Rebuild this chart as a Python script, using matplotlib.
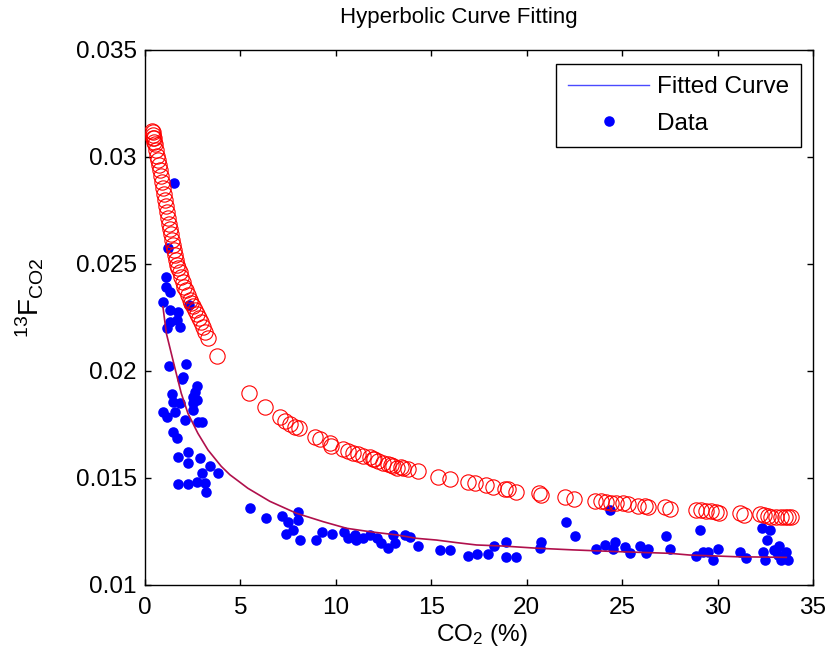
#### Workspace setup ####
import matplotlib
matplotlib.use("Agg")
import matplotlib.pyplot as plt
from matplotlib.lines import Line2D

plt.rcParams["font.family"] = ["Liberation Sans", "DejaVu Sans"]
plt.rcParams["mathtext.default"] = "regular"

#### Data ####
# measured data (blue dots)
data_x = [1.52, 1.22, 1.10, 1.10, 1.31, 0.96, 1.31, 1.74, 1.66, 1.83, 1.13, 1.31,
          2.32, 1.27, 2.15, 2.01, 1.92, 2.71, 2.62, 2.53, 1.40, 1.48, 1.83, 2.53,
          2.71, 0.96, 1.13, 1.57, 2.53, 2.09, 2.79, 2.97, 1.48, 1.66, 1.74, 2.27,
          2.27, 2.88, 3.40, 2.97, 3.84, 1.74, 2.27, 2.71, 3.14, 3.19,
          5.50, 6.34, 7.16, 7.50, 8.03, 8.03, 7.77, 7.38, 8.12, 8.95, 9.30, 9.81,
          10.43, 10.64, 10.99, 11.08, 11.43, 11.78, 12.13, 12.39, 12.74, 13.00,
          13.09, 13.61, 13.87, 14.31, 15.45, 15.97, 16.93, 17.37, 17.98, 18.27,
          18.94, 18.94, 19.42, 20.77, 20.68,
          22.04, 22.51, 24.35, 23.65, 24.08, 24.52, 24.61, 25.13, 25.39, 25.95,
          26.35, 26.26, 27.31, 27.52,
          29.09, 28.88, 29.23, 29.49, 29.75, 30.02, 31.19, 31.47, 32.34, 32.76,
          32.58, 32.37, 32.46, 32.98, 33.21, 33.16, 33.56, 33.34, 33.68]
data_y = [0.02879, 0.02573, 0.02441, 0.02394, 0.02371, 0.02324, 0.02285, 0.02277,
          0.02238, 0.02207, 0.02199, 0.02230, 0.02308, 0.02023, 0.02033, 0.01973,
          0.01961, 0.01930, 0.01903, 0.01880, 0.01893, 0.01857, 0.01849, 0.01852,
          0.01864, 0.01810, 0.01786, 0.01810, 0.01818, 0.01771, 0.01763, 0.01763,
          0.01716, 0.01685, 0.01600, 0.01623, 0.01569, 0.01592, 0.01556, 0.01522,
          0.01522, 0.01472, 0.01472, 0.01483, 0.01475, 0.01436,
          0.01361, 0.01315, 0.01324, 0.01296, 0.01343, 0.01304, 0.01257, 0.01238,
          0.01210, 0.01210, 0.01246, 0.01238, 0.01246, 0.01218, 0.01233, 0.01210,
          0.01218, 0.01233, 0.01218, 0.01195, 0.01171, 0.01233, 0.01195, 0.01233,
          0.01226, 0.01182, 0.01164, 0.01164, 0.01136, 0.01145, 0.01145, 0.01182,
          0.01202, 0.01129, 0.01129, 0.01202, 0.01171,
          0.01296, 0.01229, 0.01350, 0.01167, 0.01187, 0.01167, 0.01202, 0.01176,
          0.01148, 0.01182, 0.01167, 0.01151, 0.01229, 0.01167,
          0.01257, 0.01136, 0.01156, 0.01156, 0.01117, 0.01167, 0.01156, 0.01125,
          0.01265, 0.01257, 0.01210, 0.01156, 0.01117, 0.01164, 0.01182, 0.01140,
          0.01156, 0.01117, 0.01117]

# second series (red open circles)
ring_x = [0.35, 0.42, 0.42, 0.42, 0.45, 0.47, 0.50, 0.58, 0.63, 0.68, 0.73, 0.79,
          0.84, 0.89, 0.94, 0.99, 1.05, 1.10, 1.15, 1.20, 1.26, 1.31, 1.36, 1.41,
          1.47, 1.52, 1.57, 1.62, 1.68, 1.73, 1.83, 1.88, 1.99, 2.04, 2.15, 2.25,
          2.36, 2.41, 2.51, 2.62, 2.72, 2.83, 2.93, 3.04, 3.14, 3.30, 3.77,
          5.46, 6.28, 7.10, 7.33, 7.59, 7.85, 8.08, 8.90, 9.16, 9.69, 9.77, 10.38,
          10.64, 10.91, 11.17, 11.43, 11.78, 11.95, 12.00, 12.21, 12.48, 12.74,
          12.90, 13.00, 13.18, 13.40, 13.52, 13.79, 14.31, 15.36, 15.97, 16.93,
          17.28, 17.89, 18.24, 18.85, 19.02, 19.46, 20.64, 20.77, 21.99, 22.46,
          23.56, 23.91, 24.17, 24.43, 24.70, 25.04, 25.30, 25.83, 26.18, 26.35,
          27.23, 27.49, 28.88, 29.15, 29.41, 29.67, 29.93, 30.10, 31.15, 31.36,
          32.20, 32.41, 32.63, 32.81, 33.07, 33.34, 33.51, 33.68, 33.86]
ring_y = [0.03120, 0.03117, 0.03103, 0.03089, 0.03090, 0.03070, 0.03060, 0.03033,
          0.03005, 0.02986, 0.02963, 0.02939, 0.02911, 0.02883, 0.02855, 0.02827,
          0.02799, 0.02771, 0.02743, 0.02715, 0.02687, 0.02664, 0.02640, 0.02612,
          0.02589, 0.02565, 0.02542, 0.02519, 0.02495, 0.02481, 0.02463, 0.02439,
          0.02416, 0.02393, 0.02379, 0.02355, 0.02332, 0.02318, 0.02304, 0.02285,
          0.02266, 0.02248, 0.02229, 0.02206, 0.02182, 0.02154, 0.02070,
          0.01899, 0.01833, 0.01786, 0.01768, 0.01752, 0.01740, 0.01732, 0.01693,
          0.01682, 0.01662, 0.01650, 0.01636, 0.01628, 0.01618, 0.01611, 0.01603,
          0.01597, 0.01587, 0.01590, 0.01581, 0.01572, 0.01564, 0.01560, 0.01556,
          0.01545, 0.01550, 0.01545, 0.01541, 0.01533, 0.01506, 0.01494, 0.01483,
          0.01475, 0.01467, 0.01459, 0.01447, 0.01447, 0.01436, 0.01431, 0.01421,
          0.01413, 0.01402, 0.01394, 0.01394, 0.01390, 0.01385, 0.01385, 0.01382,
          0.01378, 0.01371, 0.01369, 0.01363, 0.01363, 0.01357, 0.01350, 0.01350,
          0.01347, 0.01345, 0.01342, 0.01335, 0.01338, 0.01326, 0.01331, 0.01326,
          0.01322, 0.01319, 0.01319, 0.01316, 0.01316, 0.01316, 0.01319]

# fitted curve, points
fit_x = [0.94, 1.12, 1.55, 1.90, 2.25, 2.77, 3.30, 3.99, 4.45, 4.87, 5.39, 6.54,
         7.94, 9.33, 10.56, 11.78, 13.18, 14.23, 15.27, 16.32, 17.37, 18.76,
         20.51, 22.42, 24.70, 27.49, 28.53, 30.98, 33.60]
fit_y = [0.02300, 0.02176, 0.02020, 0.01896, 0.01802, 0.01709, 0.01631, 0.01555,
         0.01515, 0.01487, 0.01452, 0.01391, 0.01335, 0.01296, 0.01265, 0.01249,
         0.01234, 0.01218, 0.01210, 0.01198, 0.01187, 0.01182, 0.01172, 0.01164,
         0.01156, 0.01148, 0.01140, 0.01132, 0.01129]

x_ticks = [0, 5, 10, 15, 20, 25, 30, 35]
y_ticks = [0.01, 0.015, 0.02, 0.025, 0.03, 0.035]
y_tick_labels = ["0.01", "0.015", "0.02", "0.025", "0.03", "0.035"]


def main():
    fig = plt.figure(figsize=(8.28, 6.64), dpi=100)
    ax = fig.add_axes([0.1751, 0.119, 0.8068, 0.8057])

    # blue data, fitted line on top, red rings last
    ax.plot(data_x, data_y, "o", color="#0000ff", markersize=7.6,
            markeredgewidth=0, zorder=2)
    ax.plot(fit_x, fit_y, "-", color="#b0104c", linewidth=1.2, zorder=3)
    ax.plot(ring_x, ring_y, "o", markerfacecolor="none", markeredgecolor="#ff0000",
            markersize=11, markeredgewidth=0.8, zorder=4)

    ax.set_xlim(0, 35)
    ax.set_ylim(0.01, 0.035)
    ax.set_xticks(x_ticks)
    ax.set_yticks(y_ticks)
    ax.set_yticklabels(y_tick_labels)
    ax.tick_params(direction="in", top=True, right=True, length=4, width=1,
                   labelsize=17.5)
    ax.tick_params(axis="x", pad=9)
    ax.tick_params(axis="y", pad=6)
    for sp in ax.spines.values():
        sp.set_linewidth(1)

    # legend uses proxy handles, like the MATLAB original
    handles = [
        Line2D([], [], color="#4a4aff", linewidth=1),
        Line2D([], [], linestyle="none", marker="o", color="#0000ff",
               markersize=7.6, markeredgewidth=0),
    ]
    leg = ax.legend(handles, ["Fitted Curve", "Data"], loc="upper right",
                    bbox_to_anchor=(0.982, 0.974), borderaxespad=0, fontsize=17.5,
                    handlelength=3.3, handletextpad=0.33, labelspacing=0.6,
                    borderpad=0.5, fancybox=False, framealpha=1)
    leg.get_frame().set_edgecolor("black")
    leg.get_frame().set_linewidth(1)

    fig.text(459 / 828, 1 - 18 / 664, "Hyperbolic Curve Fitting", fontsize=16,
             ha="center", va="center")
    fig.text(482 / 828, 1 - 635 / 664, "CO$_2$ (%)", fontsize=17.5,
             ha="center", va="center")
    fig.text(30 / 828, 1 - 298 / 664, "$^{13}$F$_{CO2}$", fontsize=20,
             rotation=90, ha="center", va="center")

    fig.savefig("out.png", dpi=100)


if __name__ == "__main__":
    main()
